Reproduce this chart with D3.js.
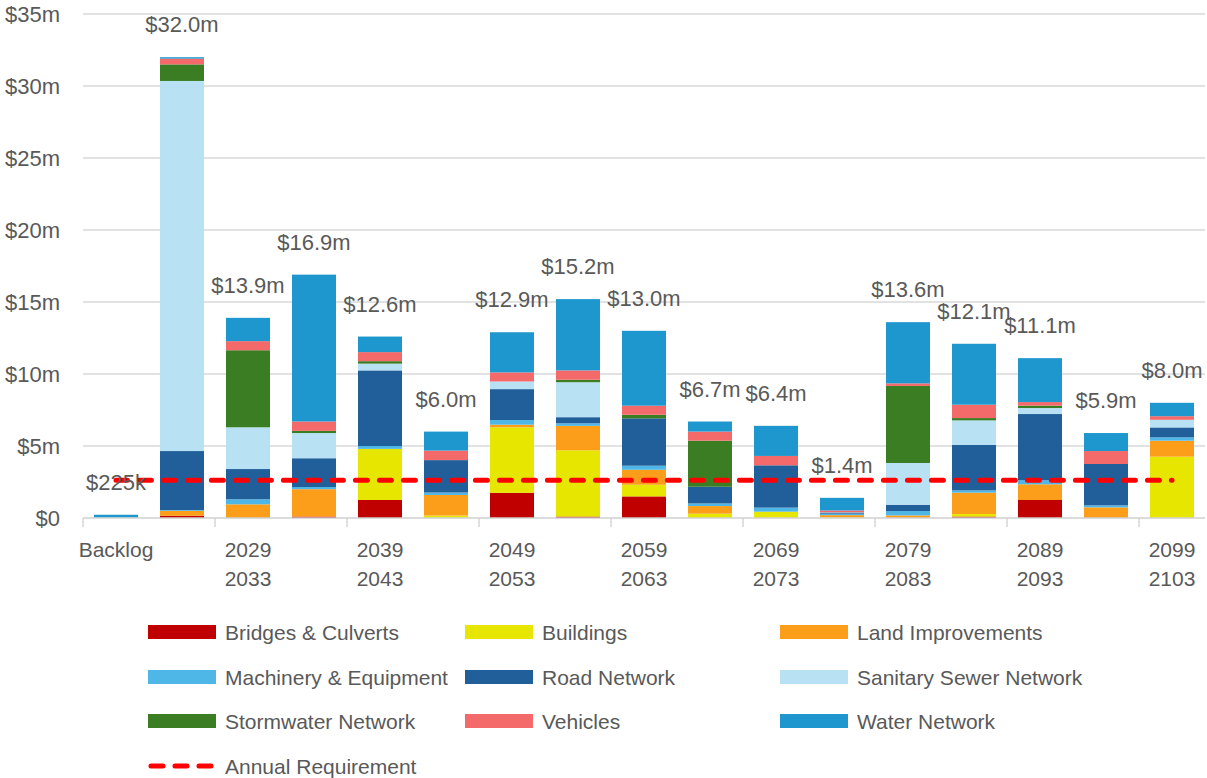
<!DOCTYPE html>
<html>
<head>
<meta charset="utf-8">
<script src="https://cdn.jsdelivr.net/npm/d3@7"></script>
<style>
  html, body { margin: 0; padding: 0; background: #fff; }
  svg { display: block; font-family: "Liberation Sans", Arial, sans-serif; }
</style>
</head>
<body>
<svg width="1207" height="778"></svg>
<script>
// categorias (intervalos de 5 anos)
const categories = ['Backlog', '2024-2028', '2029-2033', '2034-2038', '2039-2043', '2044-2048',
  '2049-2053', '2054-2058', '2059-2063', '2064-2068', '2069-2073', '2074-2078',
  '2079-2083', '2084-2088', '2089-2093', '2094-2098', '2099-2103'];

// valores em $m
const bridgesCulverts   = [0, 0.15, 0, 0.1, 1.25, 0, 1.75, 0.1, 1.5, 0, 0, 0.02, 0, 0.1, 1.25, 0, 0];
const buildings         = [0, 0, 0, 0, 3.55, 0.17, 4.55, 4.6, 0.81, 0.3, 0.44, 0.03, 0, 0.18, 0, 0, 4.26];
const landImprovements  = [0, 0.35, 0.95, 1.9, 0, 1.43, 0.18, 1.7, 1.04, 0.53, 0, 0.15, 0.18, 1.48, 1.09, 0.74, 1.11];
const machineryEquip    = [0.05, 0.05, 0.35, 0.15, 0.2, 0.17, 0.32, 0.18, 0.28, 0.18, 0.28, 0.1, 0.3, 0.16, 0.28, 0.14, 0.23];
const roadNetwork       = [0, 4.1, 2.1, 2.0, 5.25, 2.25, 2.15, 0.42, 3.29, 1.16, 2.94, 0.08, 0.44, 3.15, 4.6, 2.87, 0.69];
const sanitarySewer     = [0, 25.7, 2.9, 1.75, 0.47, 0, 0.53, 2.43, 0, 0, 0, 0.02, 2.9, 1.71, 0.42, 0, 0.53];
const stormwater        = [0, 1.15, 5.35, 0.15, 0.17, 0, 0, 0.17, 0.25, 3.2, 0, 0, 5.35, 0.16, 0.16, 0, 0];
const vehicles          = [0, 0.4, 0.63, 0.65, 0.63, 0.66, 0.63, 0.65, 0.63, 0.63, 0.65, 0.12, 0.18, 0.93, 0.25, 0.9, 0.25];
const waterNetwork      = [0.175, 0.1, 1.62, 10.2, 1.08, 1.32, 2.79, 4.95, 5.2, 0.7, 2.09, 0.88, 4.25, 4.23, 3.05, 1.25, 0.93];
const annualRequirement = [2.62, 2.62, 2.62, 2.62, 2.62, 2.62, 2.62, 2.62, 2.62, 2.62, 2.62, 2.62, 2.62, 2.62, 2.62, 2.62, 2.62];

const yTicks = [0, 5, 10, 15, 20, 25, 30, 35];

const seriesNames = ['Bridges & Culverts', 'Buildings', 'Land Improvements', 'Machinery & Equipment',
  'Road Network', 'Sanitary Sewer Network', 'Stormwater Network', 'Vehicles', 'Water Network'];
const seriesValues = [bridgesCulverts, buildings, landImprovements, machineryEquip, roadNetwork,
  sanitarySewer, stormwater, vehicles, waterNetwork];
const seriesColors = ['#C00000', '#E6E600', '#FD9E1B', '#4EB7E7', '#215F9A', '#B8E2F3', '#3B7D23', '#F46A6A', '#1D97CD'];

const svg = d3.select('svg');
const textColor = '#595959';

// tabela para o stack
const table = categories.map((c, i) => {
  const row = { cat: c };
  seriesNames.forEach((s, j) => row[s] = seriesValues[j][i]);
  return row;
});
const stacked = d3.stack().keys(seriesNames)(table);
const totals = categories.map((c, i) => d3.sum(seriesValues, arr => arr[i]));

// --- Escalas ---
const xScale = d3.scaleBand()
  .domain(categories)
  .range([83, 1205])
  .paddingInner(1 / 3)
  .paddingOuter(1 / 6);

const yScale = d3.scaleLinear()
  .domain([0, 35])
  .range([518, 14]);

const color = d3.scaleOrdinal().domain(seriesNames).range(seriesColors);

// --- Grade e eixo Y ---
svg.append('g')
  .selectAll('line')
  .data(yTicks.filter(d => d > 0))
  .join('line')
  .attr('x1', 83)
  .attr('x2', 1205)
  .attr('y1', d => yScale(d))
  .attr('y2', d => yScale(d))
  .attr('stroke', '#D9D9D9')
  .attr('stroke-width', 1.3);

svg.append('g')
  .selectAll('text')
  .data(yTicks)
  .join('text')
  .attr('x', 60)
  .attr('y', d => yScale(d) + 8)
  .attr('text-anchor', 'end')
  .style('font-size', '22px')
  .style('fill', textColor)
  .text(d => d === 0 ? '$0' : `$${d}m`);

// --- Barras empilhadas ---
svg.append('g')
  .selectAll('g')
  .data(stacked)
  .join('g')
  .attr('fill', d => color(d.key))
  .selectAll('rect')
  .data(d => d)
  .join('rect')
  .attr('x', d => xScale(d.data.cat))
  .attr('y', d => yScale(d[1]))
  .attr('width', xScale.bandwidth())
  .attr('height', d => Math.max(0, yScale(d[0]) - yScale(d[1])));

// --- Eixo X ---
const step = xScale.step();
const x0 = xScale.range()[0];
svg.append('line')
  .attr('x1', 83)
  .attr('x2', 1205)
  .attr('y1', yScale(0))
  .attr('y2', yScale(0))
  .attr('stroke', '#D0D0D0')
  .attr('stroke-width', 1.3);

svg.append('g')
  .selectAll('line')
  .data(d3.range(0, categories.length, 2))
  .join('line')
  .attr('x1', i => x0 + i * step)
  .attr('x2', i => x0 + i * step)
  .attr('y1', yScale(0))
  .attr('y2', yScale(0) + 9)
  .attr('stroke', '#D0D0D0')
  .attr('stroke-width', 1.3);

const xLabels = svg.append('g')
  .selectAll('text')
  .data(categories.filter((c, i) => i % 2 === 0))
  .join('text')
  .attr('text-anchor', 'middle')
  .style('font-size', '21px')
  .style('fill', textColor);

xLabels.each(function (c) {
  const cx = xScale(c) + xScale.bandwidth() / 2;
  const parts = c.split('-');
  parts.forEach((p, k) => {
    d3.select(this).append('tspan')
      .attr('x', cx)
      .attr('y', 557 + k * 29)
      .text(p);
  });
});

// --- Linha da necessidade anual ---
const line = d3.line()
  .x((d, i) => xScale(categories[i]) + xScale.bandwidth() / 2)
  .y(d => yScale(d));

svg.append('path')
  .datum(annualRequirement)
  .attr('d', line)
  .attr('fill', 'none')
  .attr('stroke', '#FF0000')
  .attr('stroke-width', 5)
  .attr('stroke-linecap', 'round')
  .attr('stroke-dasharray', '12,12')
  .attr('stroke-dashoffset', 0.6);

// --- Rótulos de total ---
svg.append('g')
  .selectAll('text')
  .data(categories)
  .join('text')
  .attr('x', c => xScale(c) + xScale.bandwidth() / 2)
  .attr('y', (c, i) => yScale(totals[i]) - 25)
  .attr('text-anchor', 'middle')
  .style('font-size', '22px')
  .style('fill', textColor)
  .text((c, i) => totals[i] < 1 ? `$${Math.round(totals[i] * 1000)}k` : `$${totals[i].toFixed(1)}m`);

// --- Legenda ---
const legendCols = [148, 465, 780];
const legendRows = [632, 677, 721, 766];

const legend = svg.append('g');
seriesNames.forEach((s, j) => {
  const lx = legendCols[j % 3];
  const ly = legendRows[Math.floor(j / 3)];
  legend.append('rect')
    .attr('x', lx)
    .attr('y', ly - 7)
    .attr('width', 68)
    .attr('height', 14)
    .attr('fill', color(s));
  legend.append('text')
    .attr('x', lx + 77)
    .attr('y', ly + 7.5)
    .style('font-size', '21px')
    .style('fill', textColor)
    .text(s);
});

legend.append('line')
  .attr('x1', 151)
  .attr('x2', 211)
  .attr('y1', legendRows[3])
  .attr('y2', legendRows[3])
  .attr('stroke', '#FF0000')
  .attr('stroke-width', 5)
  .attr('stroke-linecap', 'round')
  .attr('stroke-dasharray', '12,12');

legend.append('text')
  .attr('x', 148 + 77)
  .attr('y', legendRows[3] + 7.5)
  .style('font-size', '21px')
  .style('fill', textColor)
  .text('Annual Requirement');
</script>
</body>
</html>
